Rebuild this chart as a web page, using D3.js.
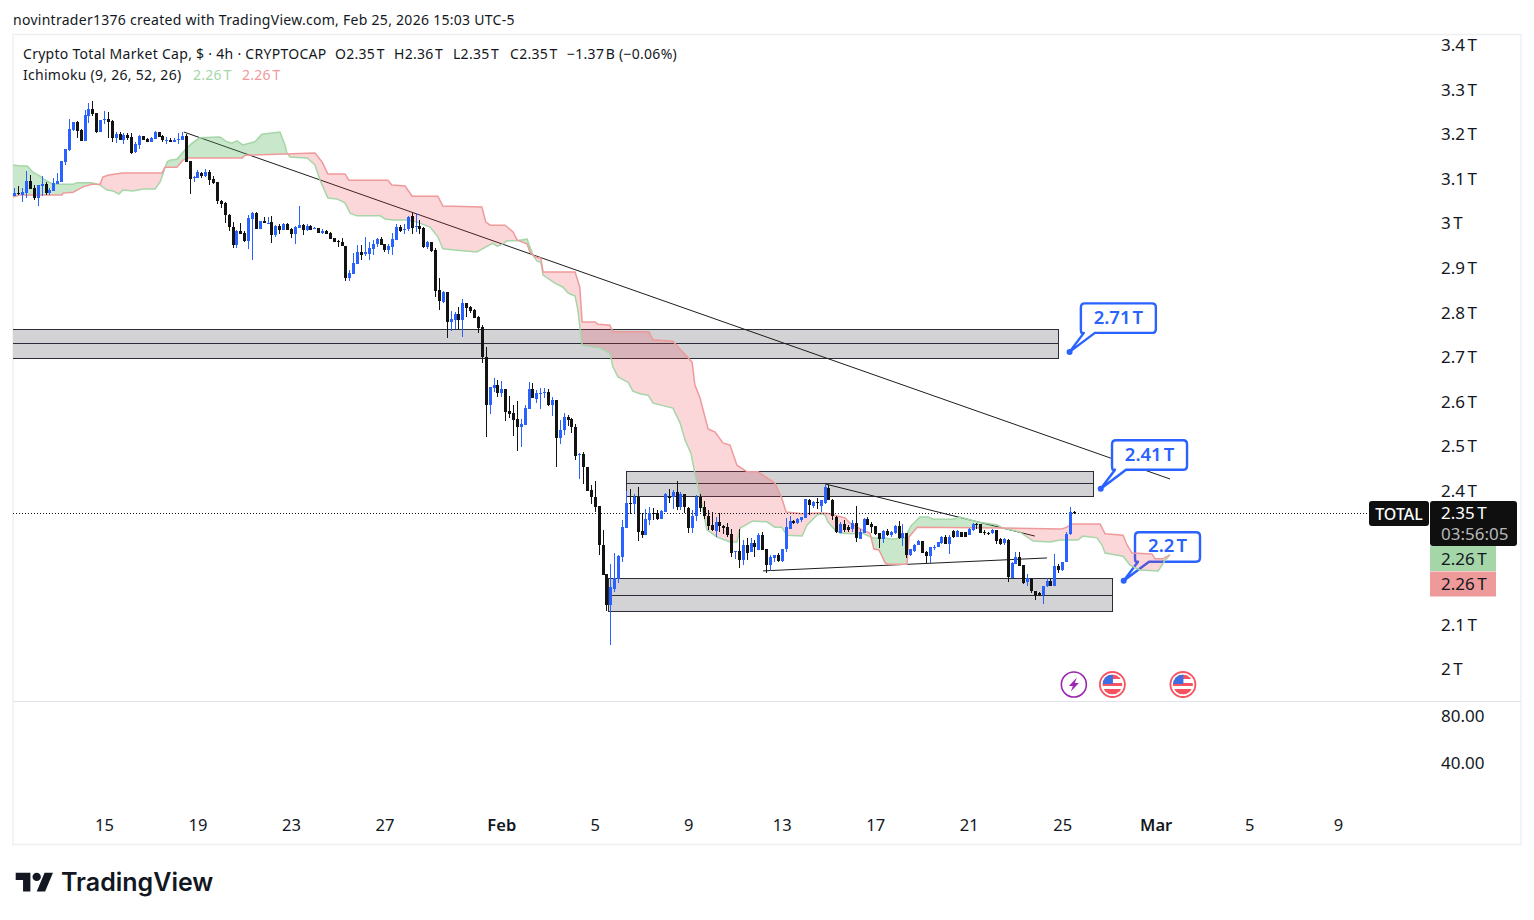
<!DOCTYPE html>
<html>
<head>
<meta charset="utf-8">
<script src="https://cdn.jsdelivr.net/npm/d3@7/dist/d3.min.js"></script>
<style>
html,body{margin:0;padding:0;background:#fff}
svg{display:block}
text{font-family:"Noto Sans",sans-serif;fill:#131722}
</style>
</head>
<body>
<svg id="chart" width="1534" height="920"></svg>
<script>
// Bars are 4h candles counted from Jan 15 00:00
const firstBar = -23;

// [open, high, low, close] in trillions USD
const candlesJanuary = [
[3.060,3.078,3.060,3.068],[3.067,3.084,3.063,3.065],[3.063,3.078,3.048,3.070],[3.068,3.116,3.057,3.094],[3.094,3.108,3.076,3.076],
[3.078,3.085,3.051,3.057],[3.057,3.085,3.037,3.085],[3.083,3.105,3.060,3.087],[3.087,3.091,3.062,3.068],[3.068,3.078,3.063,3.074],
[3.072,3.100,3.072,3.090],[3.087,3.111,3.087,3.094],[3.092,3.139,3.092,3.139],[3.136,3.166,3.130,3.166],[3.164,3.234,3.162,3.211],
[3.208,3.227,3.207,3.226],[3.226,3.229,3.191,3.207],[3.208,3.210,3.184,3.184],[3.184,3.253,3.184,3.242],[3.240,3.270,3.225,3.255],
[3.255,3.273,3.240,3.244],[3.246,3.247,3.202,3.204],[3.205,3.232,3.205,3.231],[3.231,3.251,3.223,3.233],[3.233,3.249,3.191,3.227],
[3.229,3.232,3.182,3.191],[3.190,3.205,3.180,3.199],[3.199,3.205,3.186,3.186],[3.186,3.202,3.178,3.197],[3.197,3.202,3.187,3.191],
[3.192,3.201,3.154,3.158],[3.160,3.182,3.158,3.177],[3.175,3.197,3.167,3.195],[3.194,3.195,3.186,3.186],[3.188,3.190,3.181,3.182],
[3.182,3.192,3.181,3.190],[3.189,3.206,3.188,3.204],[3.203,3.204,3.192,3.193],[3.195,3.197,3.182,3.186],[3.186,3.192,3.178,3.187],
[3.187,3.190,3.181,3.182],[3.182,3.190,3.181,3.187],[3.186,3.201,3.178,3.188],[3.186,3.205,3.186,3.195],[3.195,3.199,3.137,3.137],
[3.139,3.139,3.065,3.099],[3.102,3.105,3.092,3.104],[3.101,3.119,3.100,3.115],[3.113,3.115,3.102,3.105],[3.105,3.120,3.104,3.115],
[3.115,3.119,3.085,3.096],[3.099,3.105,3.087,3.090],[3.091,3.093,3.043,3.050],[3.050,3.051,3.033,3.043],[3.045,3.048,3.000,3.018],
[3.019,3.020,2.981,2.990],[2.990,3.003,2.945,2.951],[2.951,2.984,2.945,2.982],[2.981,3.001,2.975,2.975],[2.977,2.981,2.958,2.960],
[2.960,3.019,2.942,3.011],[3.009,3.025,2.917,3.023],[3.023,3.024,2.986,2.986],[2.986,3.005,2.986,3.004],[3.004,3.014,3.000,3.001],
[3.000,3.014,3.000,3.001],[3.002,3.016,2.956,2.972],[2.972,2.995,2.969,2.994],[2.994,2.998,2.975,2.984],[2.985,3.000,2.984,2.998],
[2.998,3.001,2.984,2.985],[2.986,2.988,2.967,2.975],[2.975,2.993,2.953,2.992],[2.989,3.038,2.988,2.995],[2.995,2.998,2.973,2.984],
[2.984,2.998,2.983,2.994],[2.993,2.995,2.984,2.984],[2.987,2.990,2.986,2.989],[2.989,2.989,2.978,2.978],[2.978,2.986,2.975,2.981],
[2.981,2.984,2.975,2.976],[2.977,2.979,2.964,2.965],[2.966,2.967,2.957,2.957],[2.960,2.963,2.947,2.958],[2.957,2.966,2.948,2.948],
[2.948,2.948,2.871,2.877],[2.877,2.895,2.869,2.887],[2.886,2.932,2.886,2.911],[2.908,2.951,2.908,2.935],[2.935,2.951,2.917,2.928],
[2.931,2.968,2.926,2.934],[2.931,2.958,2.917,2.945],[2.942,2.962,2.928,2.953],[2.953,2.966,2.947,2.964],[2.964,2.969,2.951,2.951],
[2.954,2.954,2.936,2.939],[2.939,2.954,2.931,2.948],[2.947,2.977,2.928,2.964],[2.962,2.998,2.962,2.990],[2.990,2.996,2.980,2.983],
[2.986,2.997,2.975,2.987],[2.986,3.016,2.983,3.014],[3.016,3.023,2.975,2.989],[2.991,3.022,2.980,2.993],[2.993,3.007,2.975,2.987],
[2.989,2.990,2.945,2.947],[2.947,2.960,2.942,2.957],[2.957,2.958,2.936,2.938],[2.939,2.945,2.833,2.848],[2.850,2.876,2.805,2.824],
[2.823,2.848,2.821,2.845],[2.845,2.846,2.743,2.779],[2.779,2.803,2.758,2.785],[2.783,2.800,2.762,2.797],[2.796,2.812,2.762,2.783],
[2.783,2.830,2.745,2.821],[2.821,2.821,2.790,2.810],[2.811,2.814,2.799,2.803],[2.805,2.807,2.786,2.787],[2.789,2.792,2.753,2.764],
[2.767,2.771,2.686,2.700],[2.699,2.722,2.521,2.591],[2.591,2.633,2.572,2.633],[2.630,2.653,2.622,2.637],[2.637,2.647,2.609,2.619]
];
const candlesFebruary = [
[2.619,2.645,2.609,2.628],[2.627,2.628,2.556,2.577],[2.579,2.613,2.562,2.572],[2.574,2.592,2.523,2.559],[2.561,2.601,2.489,2.543],
[2.543,2.561,2.497,2.550],[2.548,2.592,2.548,2.585],[2.583,2.644,2.583,2.628],[2.628,2.642,2.608,2.608],[2.606,2.626,2.597,2.618],
[2.618,2.630,2.583,2.619],[2.620,2.630,2.607,2.621],[2.621,2.628,2.590,2.592],[2.592,2.610,2.568,2.604],[2.603,2.604,2.454,2.517],
[2.517,2.559,2.505,2.536],[2.535,2.574,2.525,2.565],[2.565,2.570,2.545,2.559],[2.561,2.562,2.530,2.542],[2.542,2.550,2.469,2.478],
[2.479,2.484,2.426,2.483],[2.483,2.487,2.415,2.452],[2.453,2.454,2.400,2.400],[2.402,2.412,2.370,2.385],[2.386,2.422,2.353,2.364],
[2.366,2.366,2.255,2.277],[2.279,2.312,2.211,2.211],[2.213,2.214,2.131,2.143],[2.143,2.236,2.053,2.183],[2.180,2.260,2.172,2.204],
[2.202,2.256,2.193,2.254],[2.252,2.335,2.241,2.319],[2.317,2.400,2.316,2.373],[2.372,2.404,2.348,2.370],[2.370,2.393,2.350,2.385],
[2.385,2.409,2.288,2.308],[2.310,2.350,2.293,2.301],[2.301,2.359,2.301,2.337],[2.335,2.364,2.323,2.350],[2.350,2.361,2.335,2.347],
[2.350,2.357,2.335,2.337],[2.337,2.356,2.336,2.355],[2.353,2.394,2.352,2.392],[2.385,2.403,2.372,2.383],[2.386,2.402,2.359,2.397],
[2.397,2.422,2.357,2.364],[2.364,2.396,2.356,2.393],[2.392,2.392,2.350,2.364],[2.362,2.364,2.306,2.317],[2.317,2.357,2.306,2.342],
[2.342,2.391,2.331,2.386],[2.386,2.393,2.353,2.362],[2.363,2.376,2.337,2.344],[2.344,2.357,2.311,2.321],[2.323,2.353,2.310,2.311],
[2.310,2.340,2.295,2.330],[2.330,2.350,2.308,2.320],[2.321,2.323,2.303,2.317],[2.318,2.327,2.297,2.301],[2.303,2.315,2.252,2.261],
[2.262,2.264,2.246,2.264],[2.264,2.315,2.227,2.244],[2.244,2.289,2.233,2.278],[2.278,2.293,2.244,2.261],[2.263,2.293,2.263,2.282],
[2.283,2.289,2.252,2.274],[2.267,2.306,2.267,2.300],[2.300,2.308,2.267,2.267],[2.269,2.270,2.216,2.233],[2.233,2.255,2.220,2.252],
[2.250,2.255,2.241,2.255],[2.255,2.259,2.241,2.242],[2.242,2.270,2.241,2.270],[2.269,2.338,2.263,2.318],[2.315,2.343,2.315,2.332],
[2.332,2.334,2.324,2.328],[2.328,2.338,2.326,2.336],[2.334,2.341,2.330,2.341],[2.339,2.381,2.339,2.381],[2.380,2.381,2.345,2.368],
[2.365,2.377,2.362,2.374],[2.375,2.383,2.359,2.374],[2.366,2.380,2.353,2.379],[2.373,2.412,2.371,2.407],[2.405,2.412,2.379,2.379],
[2.380,2.381,2.334,2.343],[2.341,2.343,2.304,2.308],[2.306,2.330,2.304,2.324],[2.326,2.334,2.308,2.312],[2.318,2.323,2.308,2.312],
[2.313,2.334,2.308,2.328],[2.328,2.365,2.285,2.293],[2.291,2.313,2.291,2.307],[2.306,2.338,2.306,2.336],[2.336,2.341,2.323,2.323],
[2.325,2.330,2.306,2.318],[2.320,2.320,2.300,2.303],[2.304,2.306,2.272,2.291],[2.291,2.312,2.282,2.309],[2.309,2.313,2.299,2.300],
[2.300,2.309,2.297,2.307],[2.304,2.323,2.303,2.320],[2.320,2.332,2.291,2.294],[2.293,2.326,2.276,2.306],[2.304,2.306,2.248,2.256],
[2.256,2.268,2.254,2.268],[2.264,2.280,2.263,2.279],[2.278,2.289,2.278,2.287],[2.287,2.287,2.259,2.261],[2.263,2.264,2.237,2.254],
[2.254,2.273,2.238,2.273],[2.272,2.277,2.267,2.274],[2.273,2.285,2.273,2.285],[2.283,2.298,2.280,2.297],[2.297,2.300,2.280,2.280],
[2.281,2.300,2.258,2.297],[2.309,2.312,2.294,2.297],[2.297,2.312,2.297,2.309],[2.307,2.308,2.297,2.297],[2.307,2.307,2.297,2.297],
[2.301,2.316,2.301,2.314],[2.312,2.327,2.310,2.325],[2.325,2.328,2.314,2.323],[2.324,2.325,2.304,2.306],[2.307,2.312,2.301,2.305],
[2.305,2.308,2.301,2.304],[2.304,2.314,2.303,2.312],[2.312,2.312,2.281,2.286],[2.292,2.293,2.278,2.280],[2.282,2.293,2.278,2.291],
[2.290,2.291,2.194,2.207],[2.205,2.239,2.204,2.238],[2.236,2.262,2.236,2.251],[2.251,2.262,2.231,2.231],[2.233,2.234,2.191,2.192],
[2.194,2.213,2.185,2.203],[2.202,2.204,2.170,2.174],[2.174,2.175,2.154,2.164],[2.170,2.172,2.163,2.165],[2.165,2.186,2.146,2.185],
[2.185,2.205,2.183,2.198],[2.198,2.202,2.185,2.186],[2.186,2.257,2.186,2.231],[2.231,2.236,2.215,2.221],[2.221,2.241,2.219,2.240],
[2.240,2.308,2.239,2.303],[2.303,2.363,2.301,2.352],[2.353,2.354,2.348,2.351]
];

// Ichimoku leading spans: [bar, value] at each visible corner
const spanA = [
[-23.3,3.130],[-21.5,3.128],[-19.7,3.128],[-18.2,3.114],[-16.4,3.105],[-15.6,3.099],[-13.1,3.087],[-7.9,3.087],[-6.9,3.090],[-3.1,3.090],
[-1,3.085],[.8,3.074],[2.3,3.072],[3.8,3.065],[4.9,3.074],[7.4,3.072],[10,3.076],[13.1,3.076],[14.4,3.092],[15.6,3.123],
[16.2,3.137],[16.9,3.141],[18.7,3.143],[20.8,3.164],[22.6,3.179],[24.6,3.191],[29.7,3.193],[31.5,3.182],[32.8,3.179],[34.1,3.184],
[35.6,3.175],[38.7,3.182],[40.5,3.199],[45.1,3.204],[46.4,3.175],[46.9,3.157],[47.7,3.148],[52.1,3.146],[54.1,3.130],[55.4,3.096],
[57.4,3.056],[59.7,3.054],[61.8,3.045],[63.1,3.022],[64.9,3.016],[70.8,3.016],[72.1,3.009],[74.1,3.007],[77.7,3.007],[80.3,3.002],
[83.6,2.991],[85.6,2.969],[86.9,2.942],[90.5,2.939],[95.6,2.935],[99.7,2.955],[100.8,2.948],[102.3,2.953],[103.3,2.960],[105.9,2.960],
[108.5,2.964],[109,2.951],[110,2.928],[111,2.915],[112,2.912],[112.6,2.883],[115.6,2.865],[117.7,2.856],[119,2.843],[120.8,2.836],
[121.5,2.805],[122.6,2.726],[127.2,2.720],[129.7,2.708],[130.5,2.677],[131.8,2.655],[134.4,2.643],[135.6,2.623],[137.4,2.617],[139.5,2.614],
[140.8,2.596],[145.9,2.585],[147.7,2.552],[149,2.513],[150.5,2.484],[151.5,2.439],[152.8,2.390],[154.6,2.312],[157.2,2.296],[160.5,2.285],
[162.3,2.285],[163.1,2.316],[166.4,2.332],[170,2.330],[172,2.318],[173.8,2.318],[175.1,2.300],[179,2.298],[180.3,2.323],[182.8,2.345],
[184.1,2.348],[184.9,2.345],[185.6,2.330],[187.4,2.312],[188.7,2.305],[191.8,2.303],[194.4,2.305],[197.2,2.294],[200.3,2.294],[202.3,2.291],
[204.1,2.294],[205.4,2.294],[206.9,2.321],[209.2,2.341],[211.3,2.341],[212.6,2.336],[217.7,2.336],[219.5,2.341],[223.8,2.330],[229,2.323],
[230.5,2.316],[234.9,2.307],[238.2,2.287],[242.6,2.285],[245.1,2.289],[249.7,2.289],[251,2.298],[254.6,2.294],[255.9,2.278],[256.7,2.260],
[261.3,2.253],[263.1,2.233],[265.6,2.222],[270.3,2.220],[272.1,2.244],[273.3,2.256]
];
const spanB = [
[-23.3,3.058],[-21.5,3.063],[-10.8,3.063],[-10.5,3.067],[-7.9,3.069],[-5.4,3.081],[-3.1,3.087],[-1,3.087],[-.3,3.103],[1,3.107],
[4.6,3.112],[14.9,3.112],[15.6,3.125],[18.7,3.125],[20.3,3.141],[21.5,3.146],[35.4,3.146],[36.2,3.152],[54.1,3.157],[55.9,3.137],
[57.4,3.110],[61.8,3.110],[62.8,3.096],[72.8,3.096],[73.8,3.085],[77.2,3.083],[79,3.060],[85.6,3.060],[86.9,3.038],[96.9,3.036],
[97.9,3.002],[99,2.995],[102.8,2.995],[104.9,2.980],[105.9,2.962],[108.5,2.953],[109.2,2.935],[110.5,2.924],[112,2.921],[112.6,2.890],
[120.8,2.890],[122,2.856],[122.6,2.778],[125.9,2.778],[126.7,2.773],[129.7,2.771],[130.5,2.756],[139.7,2.756],[140.8,2.738],[145.9,2.735],
[147.2,2.722],[150.8,2.688],[151.5,2.637],[152.8,2.608],[154.9,2.538],[156.7,2.531],[158.7,2.507],[160.5,2.502],[162.3,2.457],[164.9,2.442],
[167.7,2.442],[172,2.417],[173.8,2.383],[174.9,2.352],[179,2.348],[184.1,2.350],[186.2,2.348],[188,2.343],[190,2.339],[191.3,2.327],
[194.4,2.312],[196.4,2.305],[197.4,2.269],[198.7,2.267],[200.3,2.238],[201,2.235],[205.9,2.235],[206.4,2.296],[208.5,2.318],[230.5,2.316],
[245.6,2.314],[246.9,2.318],[248.2,2.325],[255.4,2.325],[256.7,2.303],[261.3,2.300],[262.3,2.278],[263.6,2.260],[268.7,2.258],[269.5,2.247],
[271.5,2.247],[273.3,2.256]
];

// Horizontal zones: bar start, bar end, top value, bottom value
const zoneStarts = [-24, 133.9, 129.3];
const zoneEnds = [244.9, 254, 258.8];
const zoneTops = [2.763, 2.444, 2.203];
const zoneBottoms = [2.698, 2.388, 2.131];

// Trend lines: [bar, value, bar, value]
const trendLines = [
  [20.5, 3.204, 273.7, 2.426],
  [185.1, 2.415, 239, 2.298],
  [169.2, 2.220, 242.1, 2.249]
];

// Callouts
const calloutLabels = ['2.71T', '2.41T', '2.2T'];
const calloutBars = [247.9, 255.9, 261.8];
const calloutValues = [2.711, 2.404, 2.198];
const calloutWidths = [75, 75, 65];

// Axes
const priceTicks = [3.4, 3.3, 3.2, 3.1, 3, 2.9, 2.8, 2.7, 2.6, 2.5, 2.4, 2.1, 2];
const lowerTicks = [80, 40];
const timeTickBars = [0, 24, 48, 72, 102, 126, 150, 174, 198, 222, 246, 270, 294, 316.8];
const timeTickLabels = ['15', '19', '23', '27', 'Feb', '5', '9', '13', '17', '21', '25', 'Mar', '5', '9'];
const boldTimeLabels = ['Feb', 'Mar'];

// Legend
const legendTitle = 'Crypto Total Market Cap, $ · 4h · CRYPTOCAP';
const legendItems = ['O2.35T', 'H2.36T', 'L2.35T', 'C2.35T', '−1.37B (−0.06%)'];
const legendItemX = [335, 394, 453, 510, 567];

const lastPrice = 2.35;
const eventBars = [249, 258.9, 277];

const UP = '#2962ff', DOWN = '#131313';
const GREEN_LINE = '#a5d6a7', RED_LINE = '#ef9a9a';

const svg = d3.select('#chart');
const x = d3.scaleLinear().domain([0, 246]).range([104, 104 + 246 * 3.895]);
// the cloud corners were read on a very slightly wider bar pitch
const spanX = d => x(d[0] * 3.9 / 3.895);
const y = d3.scaleLinear().domain([2, 3.4]).range([669, 669 - 1.4 * 446]);
const yLower = d3.scaleLog().domain([80, 40]).range([715.5, 763]);

const paneLeft = 13, paneRight = 1430, paneTop = 35, paneBottom = 701;
const defs = svg.append('defs');
defs.append('clipPath').attr('id', 'pane').append('rect')
  .attr('x', paneLeft).attr('y', paneTop).attr('width', paneRight - paneLeft).attr('height', paneBottom - paneTop);

// put the TradingView gap in front of a trailing unit letter, keeping the text whole
function spaceUnit(sel, gap) {
  sel.each(function () {
    const t = d3.select(this), s = t.text();
    if (!/[0-9][TB]/.test(s)) return;
    const parts = s.match(/^(.*?[0-9])([TB])(.*)$/);
    t.text(null);
    t.append('tspan').text(parts[1]);
    t.append('tspan').attr('dx', gap).text(parts[2]);
    if (parts[3]) t.append('tspan').text(parts[3]);
  });
}

// frame
svg.append('rect').attr('x', 13).attr('y', 34.5).attr('width', 1508).attr('height', 810)
  .attr('fill', '#fff').attr('stroke', '#eef0f4').attr('stroke-width', 1.5);
svg.append('line').attr('x1', 13).attr('x2', 1521).attr('y1', 701.5).attr('y2', 701.5).attr('stroke', '#e0e3eb');

const pane = svg.append('g').attr('clip-path', 'url(#pane)');

// zones
const zones = pane.append('g');
zoneStarts.forEach((s, i) => {
  const x0 = Math.round(x(s)) + .5, x1 = Math.round(x(zoneEnds[i])) + .5;
  const yt = Math.round(y(zoneTops[i])) + .5, yb = Math.round(y(zoneBottoms[i])) + .5;
  const ym = Math.round(y((zoneTops[i] + zoneBottoms[i]) / 2)) + .5;
  zones.append('rect').attr('x', x0).attr('y', yt).attr('width', x1 - x0).attr('height', yb - yt)
    .attr('fill', '#d3d3d6').attr('stroke', '#2a2e39').attr('stroke-width', 1);
  zones.append('line').attr('x1', x0).attr('x2', x1).attr('y1', ym).attr('y2', ym).attr('stroke', '#2a2e39');
});

// trend lines
pane.append('g').selectAll('line').data(trendLines).join('line')
  .attr('x1', d => x(d[0])).attr('y1', d => y(d[1])).attr('x2', d => x(d[2])).attr('y2', d => y(d[3]))
  .attr('stroke', '#1c1c1c').attr('stroke-width', 1);

// callouts
const callouts = pane.append('g');
calloutLabels.forEach((label, i) => {
  const px = x(calloutBars[i]), py = y(calloutValues[i]);
  const l = px + 11.3, t = py - 48.5, r = l + calloutWidths[i], b = py - 19, rad = 4;
  const d = `M${l + rad},${t}H${r - rad}Q${r},${t} ${r},${t + rad}V${b - rad}Q${r},${b} ${r - rad},${b}` +
    `H${l + 14}L${px},${py}L${l + 3},${b}H${l + rad - 3}Q${l},${b} ${l},${b - rad}V${t + rad}Q${l},${t} ${l + rad},${t}Z`;
  callouts.append('path').attr('d', d).attr('fill', '#fff').attr('stroke', UP).attr('stroke-width', 2.4).attr('stroke-linejoin', 'round');
  callouts.append('circle').attr('cx', px).attr('cy', py).attr('r', 3).attr('fill', UP);
  callouts.append('text').attr('x', (l + r) / 2).attr('y', (t + b) / 2 + 5.5).attr('text-anchor', 'middle')
    .attr('font-size', 18.5).style('fill', UP).style('font-weight', 600).text(label).call(spaceUnit, 2);
});

// Ichimoku cloud
const lineGen = d3.line().x(spanX).y(d => y(d[1]));
const areaTo = edge => d3.area().x(spanX).y0(edge).y1(d => y(d[1]));
defs.append('clipPath').attr('id', 'aboveB').append('path').attr('d', areaTo(paneTop)(spanB));
defs.append('clipPath').attr('id', 'belowB').append('path').attr('d', areaTo(paneBottom)(spanB));
const cloud = pane.append('g');
cloud.append('g').attr('clip-path', 'url(#aboveB)').append('path').attr('d', areaTo(paneBottom)(spanA))
  .attr('fill', '#4caf50').attr('fill-opacity', .3);
cloud.append('g').attr('clip-path', 'url(#belowB)').append('path').attr('d', areaTo(paneTop)(spanA))
  .attr('fill', '#f23645').attr('fill-opacity', .2);
cloud.append('path').attr('d', lineGen(spanA)).attr('fill', 'none').attr('stroke', GREEN_LINE).attr('stroke-width', 1.5);
cloud.append('path').attr('d', lineGen(spanB)).attr('fill', 'none').attr('stroke', RED_LINE).attr('stroke-width', 1.5);

// last price line
pane.append('line').attr('x1', paneLeft).attr('x2', 1369).attr('y1', Math.round(y(lastPrice)) + .5).attr('y2', Math.round(y(lastPrice)) + .5)
  .attr('stroke', '#131722').attr('stroke-dasharray', '1 2');

// candles
const candles = candlesJanuary.concat(candlesFebruary);
const candleG = pane.append('g').attr('shape-rendering', 'crispEdges');
candles.forEach((c, i) => {
  const [o, h, l, cl] = c;
  const color = cl >= o ? UP : DOWN;
  const cx = Math.round(x(firstBar + i));
  candleG.append('rect').attr('x', cx).attr('width', 1).attr('y', y(h)).attr('height', Math.max(1, y(l) - y(h))).attr('fill', color);
  candleG.append('rect').attr('x', cx - 1).attr('width', 3)
    .attr('y', y(Math.max(o, cl))).attr('height', Math.max(1, Math.abs(y(o) - y(cl)))).attr('fill', color);
});

// price axes
const fmtPrice = d => d + 'T';
const axisFont = 17;
function styleAxis(g) {
  g.select('.domain').remove();
  g.selectAll('.tick line').remove();
  g.selectAll('text').attr('font-size', axisFont).attr('font-family', null).style('fill', '#131722');
}
const priceAxis = svg.append('g').attr('transform', 'translate(1441,0.5)')
  .call(d3.axisRight(y).tickValues(priceTicks).tickFormat(fmtPrice).tickSize(0).tickPadding(0)).call(styleAxis);
priceAxis.selectAll('text').call(spaceUnit, 2.5);
svg.append('g').attr('transform', 'translate(1441,0.5)')
  .call(d3.axisRight(yLower).tickValues(lowerTicks).tickFormat(d3.format('.2f')).tickSize(0).tickPadding(0)).call(styleAxis);

// time axis
const timeAxis = svg.append('g').attr('transform', 'translate(0,815.5)')
  .call(d3.axisBottom(x).tickValues(timeTickBars).tickFormat((d, i) => timeTickLabels[i]).tickSize(0).tickPadding(0)).call(styleAxis);
timeAxis.selectAll('text').attr('dy', '0.92em').attr('font-size', 16.5)
  .style('font-weight', d => boldTimeLabels.includes(timeTickLabels[timeTickBars.indexOf(d)]) ? 600 : 400);

// price labels
const ly = y(lastPrice);
svg.append('rect').attr('x', 1369).attr('y', 501).attr('width', 60).attr('height', 25).attr('rx', 3).attr('fill', '#0f0f0f');
svg.append('text').attr('x', 1399).attr('y', 519.5).attr('text-anchor', 'middle').attr('font-size', 16).style('fill', '#fff').style('font-weight', 500).text('TOTAL');
svg.append('rect').attr('x', 1430).attr('y', 501).attr('width', 87).attr('height', 45).attr('rx', 3).attr('fill', '#0f0f0f');
svg.append('text').attr('x', 1441).attr('y', ly + 6.5).attr('font-size', axisFont).style('fill', '#fff').text('2.35T').call(spaceUnit, 2.5);
svg.append('text').attr('x', 1441).attr('y', 539.5).attr('font-size', axisFont).style('fill', '#b8b8b8').text('03:56:05');
svg.append('rect').attr('x', 1430).attr('y', 546).attr('width', 66).attr('height', 25).attr('fill', GREEN_LINE);
svg.append('text').attr('x', 1441).attr('y', 564.5).attr('font-size', axisFont).text('2.26T').call(spaceUnit, 2.5);
svg.append('rect').attr('x', 1430).attr('y', 571.5).attr('width', 66).attr('height', 25).attr('fill', RED_LINE);
svg.append('text').attr('x', 1441).attr('y', 589.5).attr('font-size', axisFont).text('2.26T').call(spaceUnit, 2.5);

// legend and header
const tracking = '0.28px';
svg.append('text').attr('x', 13).attr('y', 24.5).attr('font-size', 14).style('letter-spacing', tracking)
  .text('novintrader1376 created with TradingView.com, Feb 25, 2026 15:03 UTC-5');
svg.append('text').attr('x', 23).attr('y', 59).attr('font-size', 14).style('letter-spacing', tracking).text(legendTitle);
legendItems.forEach((s, i) => {
  svg.append('text').attr('x', legendItemX[i]).attr('y', 59).attr('font-size', 14).style('letter-spacing', tracking).text(s).call(spaceUnit, 1.5);
});
svg.append('text').attr('x', 23).attr('y', 80).attr('font-size', 14).style('letter-spacing', tracking).text('Ichimoku (9, 26, 52, 26)');
svg.append('text').attr('x', 193).attr('y', 80).attr('font-size', 14).style('letter-spacing', tracking).style('fill', GREEN_LINE).text('2.26T').call(spaceUnit, 1.5);
svg.append('text').attr('x', 242).attr('y', 80).attr('font-size', 14).style('letter-spacing', tracking).style('fill', RED_LINE).text('2.26T').call(spaceUnit, 1.5);

// event icons
const iconY = 684.5;
const bolt = svg.append('g').attr('transform', `translate(${x(eventBars[0])},${iconY})`);
bolt.append('circle').attr('r', 12.5).attr('fill', '#fff').attr('stroke', '#9c27b0').attr('stroke-width', 1.6);
bolt.append('path').attr('d', 'M3,-7L-5,1.5H-1L-3,7L5,-1.5H1Z').attr('fill', '#9c27b0');
defs.append('clipPath').attr('id', 'flagClip').append('circle').attr('r', 10);
eventBars.slice(1).forEach(b => {
  const g = svg.append('g').attr('transform', `translate(${x(b)},${iconY})`);
  g.append('circle').attr('r', 12.5).attr('fill', '#fff').attr('stroke', '#f7525f').attr('stroke-width', 1.8);
  const f = g.append('g').attr('clip-path', 'url(#flagClip)');
  f.append('rect').attr('x', -10).attr('y', -10).attr('width', 20).attr('height', 4.5).attr('fill', '#f7525f');
  f.append('rect').attr('x', -10).attr('y', -1.5).attr('width', 20).attr('height', 3).attr('fill', '#f7525f');
  f.append('rect').attr('x', -10).attr('y', 4.5).attr('width', 20).attr('height', 5.5).attr('fill', '#f7525f');
  f.append('rect').attr('x', -10).attr('y', -10).attr('width', 10.5).attr('height', 9.5).attr('fill', '#3d6fe0');
});

// logo
const logo = svg.append('g').attr('transform', 'translate(15.7,868.5) scale(1.05)').attr('fill', '#131722');
logo.append('path').attr('d', 'M14 22H7V11H0V4h14v18zM28 22h-8l7.5-18h8L28 22z');
logo.append('circle').attr('cx', 20).attr('cy', 8).attr('r', 4);
svg.append('text').attr('x', 61).attr('y', 890.5).attr('font-size', 25).style('font-family', 'Inter,sans-serif').style('font-weight', 600).text('TradingView');
</script>
</body>
</html>
